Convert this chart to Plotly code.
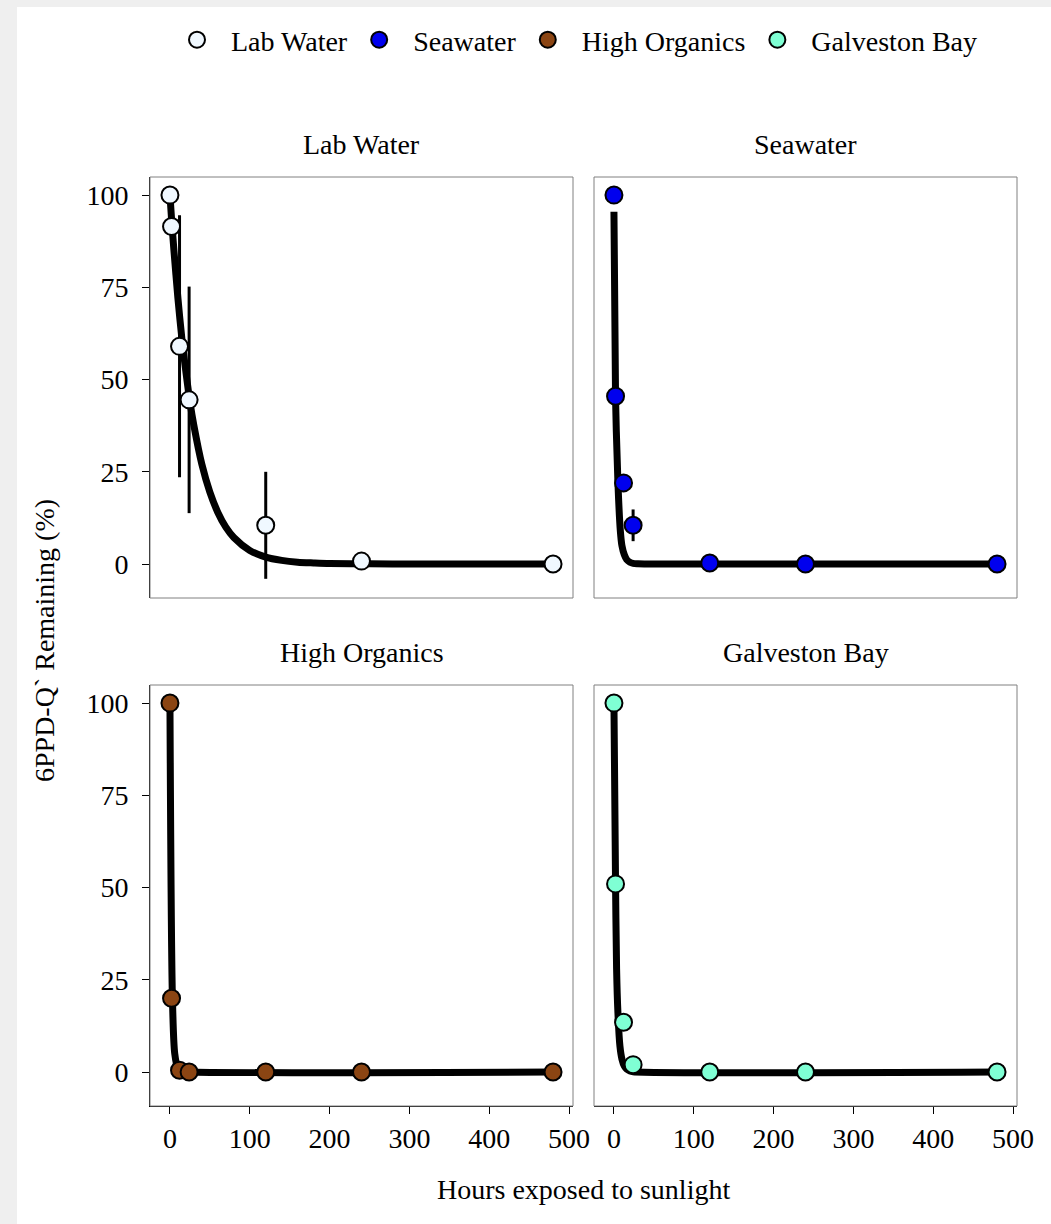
import plotly.graph_objects as go
from plotly.subplots import make_subplots

# ---------------- data ----------------
panels = ["Lab Water", "Seawater", "High Organics", "Galveston Bay"]
colors = ["#f0f8ff", "#0000ee", "#8b4513", "#7fffd4"]

hours = [0, 2, 12, 24, 120, 240, 480]

lab_y = [100, 91.5, 59, 44.5, 10.5, 0.8, 0]
lab_err = [0, 0, 35.5, 30.7, 14.5, 0, 0]
sea_y = [100, 45.5, 22, 10.5, 0.3, 0, 0]
sea_err = [0, 0, 0, 4.3, 0, 0, 0]
hi_y = [100, 20, 0.5, 0, 0, 0, 0]
hi_err = [0, 7.5, 0, 0, 0, 0, 0]
gb_y = [100, 51, 13.5, 2, 0, 0, 0]
gb_err = [0, 0, 0, 0, 0, 0, 0]

lab_fit_t = [0, 2, 5, 10, 15, 20, 25, 30, 40, 50, 60, 70, 80, 100, 120, 140, 160, 180, 200, 250, 300, 400, 480]
lab_fit_y = [100, 93.5, 85, 72, 61, 52, 44, 37.5, 27, 19.5, 14, 10, 7.2, 3.7, 1.9, 1.0, 0.5, 0.3, 0.15, 0.05, 0, 0, 0]
sea_fit_t = [0, 2, 5, 8, 10, 13, 16, 20, 24, 30, 50, 120, 240, 480]
sea_fit_y = [95.5, 45, 22, 9, 5, 2.5, 1.2, 0.5, 0.2, 0.1, 0, 0, 0, 0]
hi_fit_t = [0, 3, 6, 10, 15, 24, 480]
hi_fit_y = [100, 21, 5, 1, 0.2, 0, 0]
gb_fit_t = [0, 2, 3.3, 5, 7.5, 10, 13, 16, 20, 24, 480]
gb_fit_y = [100, 51, 28, 16, 7, 3.5, 1.6, 0.8, 0.3, 0.1, 0]

x_ticks = [0, 100, 200, 300, 400, 500]
y_ticks = [0, 25, 50, 75, 100]

series = [
    (lab_y, lab_err, lab_fit_t, lab_fit_y),
    (sea_y, sea_err, sea_fit_t, sea_fit_y),
    (hi_y, hi_err, hi_fit_t, hi_fit_y),
    (gb_y, gb_err, gb_fit_t, gb_fit_y),
]

# ---------------- layout ----------------
W, H = 1051, 1224
FONT = "Liberation Serif"
FS = 28

def px_x(p):
    return p / W

def px_y(p):
    return 1 - p / H

fig = make_subplots(rows=2, cols=2)

cols_px = [(150, 573), (594, 1017)]
rows_px = [(177, 598), (685, 1106)]

NB = "\u00a0\u00a0"
for i, name in enumerate(panels):
    r, c = i // 2 + 1, i % 2 + 1
    yv, err, ft, fy = series[i]
    fig.add_trace(go.Scatter(x=ft, y=fy, mode="lines",
                             line=dict(color="black", width=7, shape="spline",
                                       smoothing=0.8),
                             showlegend=False, hoverinfo="skip"), row=r, col=c)
    fig.add_trace(go.Scatter(x=hours, y=yv, mode="markers",
                             name=NB + name + "\u00a0",
                             marker=dict(color=colors[i], size=17,
                                         line=dict(color="black", width=2)),
                             error_y=dict(type="data", array=err, visible=True,
                                          color="black", thickness=3, width=0),
                             showlegend=True), row=r, col=c)

axis_font = dict(family=FONT, size=FS, color="black")
for i in range(4):
    r, c = i // 2, i % 2
    xa = "xaxis" if i == 0 else f"xaxis{i+1}"
    ya = "yaxis" if i == 0 else f"yaxis{i+1}"
    x0, x1 = cols_px[c]
    y0, y1 = rows_px[r]
    bottom = r == 1
    left = c == 0
    fig.layout[xa].update(
        domain=[px_x(x0), px_x(x1)], range=[-25, 505],
        showgrid=False, zeroline=False,
        showline=bottom, linecolor="black", linewidth=1,
        tickmode="array", tickvals=x_ticks if bottom else [],
        ticks="outside" if bottom else "", ticklen=7, tickcolor="black",
        showticklabels=bottom, tickfont=axis_font, automargin=False)
    fig.layout[ya].update(
        domain=[px_y(y1), px_y(y0)], range=[-9.2, 104.9],
        showgrid=False, zeroline=False,
        showline=left, linecolor="black", linewidth=1,
        tickmode="array", tickvals=y_ticks if left else [],
        ticks="outside" if left else "", ticklen=7, tickcolor="black",
        ticklabelstandoff=8,
        showticklabels=left, tickfont=axis_font, automargin=False)

shapes = [dict(type="rect", xref="paper", yref="paper", x0=px_x(17), x1=1.0,
               y0=0, y1=px_y(7), fillcolor="white", line=dict(width=0),
               layer="below")]
for i in range(4):
    xr = "x domain" if i == 0 else f"x{i+1} domain"
    yr = "y domain" if i == 0 else f"y{i+1} domain"
    shapes.append(dict(type="rect", xref=xr, yref=yr, x0=0, x1=1, y0=0, y1=1,
                       line=dict(color="#808080", width=1), layer="above"))

annotations = []
title_centers = [(361.5, 144), (805.5, 144), (361.5, 652), (805.5, 652)]
for name, (cx, cy) in zip(panels, title_centers):
    annotations.append(dict(text=name, x=px_x(cx), y=px_y(cy), xref="paper", yref="paper",
                            xanchor="center", yanchor="middle", showarrow=False,
                            font=dict(family=FONT, size=FS, color="black")))
annotations.append(dict(text="Hours exposed to sunlight", x=px_x(583), y=px_y(1189),
                        xref="paper", yref="paper", xanchor="center", yanchor="middle",
                        showarrow=False, font=dict(family=FONT, size=FS, color="black")))
annotations.append(dict(text="6PPD-Q` Remaining (%)", x=px_x(44), y=px_y(641),
                        xref="paper", yref="paper", xanchor="center", yanchor="middle",
                        textangle=-90, showarrow=False,
                        font=dict(family=FONT, size=FS, color="black")))

fig.update_layout(
    width=W, height=H,
    margin=dict(l=0, r=0, t=0, b=0),
    paper_bgcolor="#efefef", plot_bgcolor="white",
    font=dict(family=FONT, size=FS, color="black"),
    shapes=shapes, annotations=annotations,
    legend=dict(orientation="h", x=px_x(583), y=px_y(40), xanchor="center",
                yanchor="middle", font=dict(family=FONT, size=FS, color="black"),
                bgcolor="rgba(0,0,0,0)", itemwidth=30, tracegroupgap=0),
    hovermode=False,
)

fig.write_html("out.html", config={"displayModeBar": False},
               post_script="document.body.style.margin='0px';document.body.style.overflow='hidden';")
